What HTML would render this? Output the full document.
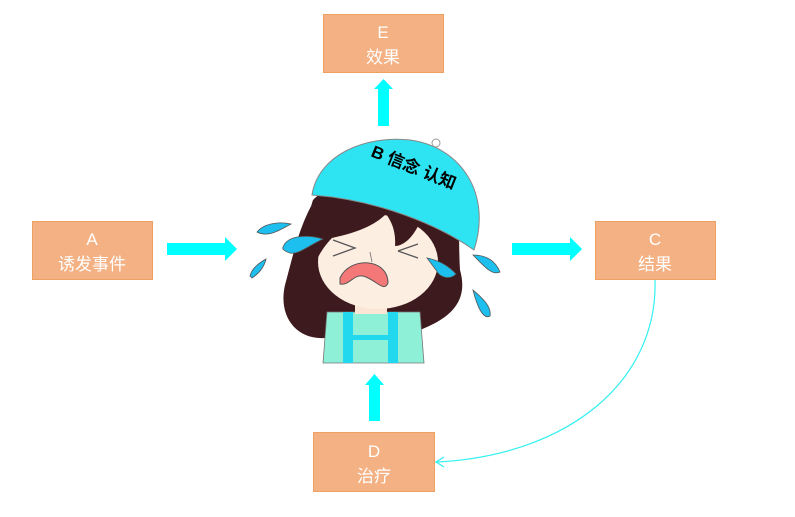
<!DOCTYPE html>
<html><head><meta charset="utf-8"><style>
html,body{margin:0;padding:0;background:#fff;}
svg{display:block}
text{font-family:"Liberation Sans","Noto Sans CJK SC",sans-serif;}
.bx{fill:#f4b183;stroke:#f0a060;stroke-width:1}
.lb{fill:#fff;font-size:17px;text-anchor:middle}
</style></head><body>
<svg width="795" height="517" viewBox="0 0 795 517" xmlns="http://www.w3.org/2000/svg">
<rect class="bx" x="32.5" y="221.5" width="120" height="58"/>
<text class="lb" x="92" y="245">A</text><text class="lb" x="92" y="270">诱发事件</text>
<rect class="bx" x="323.5" y="14.5" width="120" height="58"/>
<text class="lb" x="383" y="38">E</text><text class="lb" x="383" y="63">效果</text>
<rect class="bx" x="595.5" y="221.5" width="120" height="58"/>
<text class="lb" x="655" y="245">C</text><text class="lb" x="655" y="270">结果</text>
<rect class="bx" x="313.5" y="432.5" width="121" height="59"/>
<text class="lb" x="374" y="457">D</text><text class="lb" x="374" y="482">治疗</text>
<g fill="#00ffff">
<polygon points="167,243 225,243 225,237 237,249 225,261 225,255 167,255"/>
<polygon points="512,243 570,243 570,237 582,249 570,261 570,255 512,255"/>
<polygon points="378,126 378,89 374,89 383.5,79 393,89 389,89 389,126"/>
<polygon points="369,421 369,385 365,385 374.5,374 384,385 380,385 380,421"/>
</g>
<path d="M655,280 C658,380 570,455 437,462" fill="none" stroke="#33f0f0" stroke-width="1.2"/>
<path d="M444,457 L436,462 L444,467" fill="none" stroke="#33f0f0" stroke-width="1.2"/>
<g>
<!-- hair back -->
<path d="M318,195 C300,220 292,260 285,285 C278,315 295,340 325,338 L420,330 C445,320 470,305 460,270 C458,240 462,220 450,205 Z" fill="#3d1a1d"/>
<!-- shirt -->
<path d="M327,312 L420,312 L424,363 L323,363 Z" fill="#8ff0d8" stroke="#777" stroke-width="0.8"/>
<rect x="343" y="312" width="10" height="51" fill="#22d8ee"/>
<rect x="388" y="312" width="10" height="51" fill="#22d8ee"/>
<rect x="343" y="335" width="55" height="5" fill="#22d8ee"/>
<rect x="355" y="292" width="32" height="22" fill="#fbe6d6"/>
<!-- face -->
<ellipse cx="378" cy="262" rx="60" ry="47" fill="#fdeee2"/>
<!-- bangs -->
<path d="M313,200 C330,180 400,180 445,215 C452,232 452,245 448,255 C440,238 430,228 420,222 C412,240 402,246 395,246 C396,232 392,222 386,214 C372,228 350,234 332,238 C322,248 318,258 315,262 C308,240 306,220 313,200 Z" fill="#3d1a1d"/>
<!-- hat -->
<path d="M312,195 C318,155 365,135 410,140 C462,147 492,195 474,250 C440,226 380,200 312,195 Z" fill="#2ee4f2" stroke="#888" stroke-width="1"/>
<circle cx="436" cy="143" r="4" fill="none" stroke="#999"/>
<text font-size="17" font-weight="bold" fill="#000" transform="translate(370,156) rotate(22)">B 信念 认知</text>
<!-- eyes -->
<path d="M333,240 L355,248 L333,256 M398,251 L418,244 M398,251 L418,258" stroke="#555" stroke-width="1.3" fill="none"/>
<path d="M370,252 L372,262" stroke="#888" stroke-width="1"/>
<!-- mouth -->
<path d="M340,278 C350,256 388,258 388,283 C384,292 378,282 366,277 C354,272 350,286 340,284 Z" fill="#f57878" stroke="#555" stroke-width="1"/>
<!-- tears -->
<g fill="#1cbfee" stroke="#555" stroke-width="0.8">
<path d="M257,232 C265,222 282,222 291,224 C280,230 268,238 257,232 Z"/>
<path d="M283,247 C288,234 310,235 323,239 C308,246 298,255 290,253 C284,251 282,249 283,247 Z"/>
<path d="M250,276 C252,268 259,263 266,259 C264,268 258,274 252,278 Z"/>
<path d="M427,258 C437,260 447,264 456,274 C450,280 440,278 436,270 Z"/>
<path d="M473,255 C485,255 495,260 500,272 C492,276 484,266 473,255 Z"/>
<path d="M473,290 C480,296 492,306 490,316 C483,320 477,306 473,290 Z"/>
</g>
</g>
</svg>
</body></html>
